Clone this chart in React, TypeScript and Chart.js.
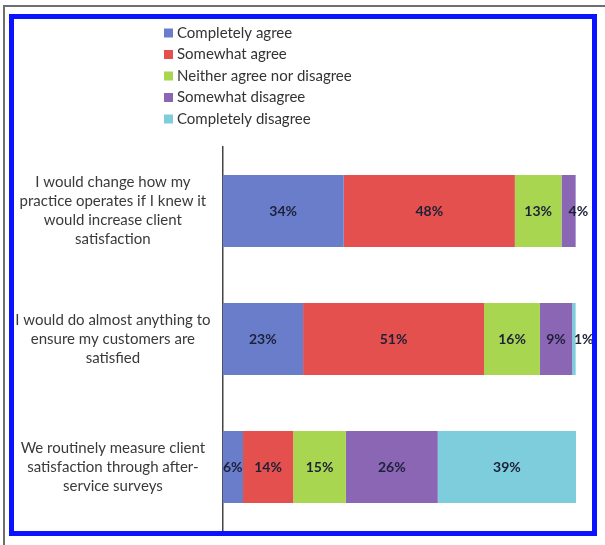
import React, { useEffect, useRef } from "react";
import { Chart, registerables } from "chart.js";

Chart.register(...registerables);

const categories: string[][] = [
  ["I would change how my", "practice operates if I knew it", "would increase client", "satisfaction"],
  ["I would do almost anything to", "ensure my customers are", "satisfied"],
  ["We routinely measure client", "satisfaction through after-", "service surveys"],
];

const seriesNames = [
  "Completely agree",
  "Somewhat agree",
  "Neither agree nor disagree",
  "Somewhat disagree",
  "Completely disagree",
];

const completelyAgree = [34.3, 22.8, 5.8];
const somewhatAgree = [48.4, 51.2, 14.2];
const neitherAgree = [13.2, 15.8, 14.9];
const somewhatDisagree = [4.0, 9.1, 26.0];
const completelyDisagree = [0, 1.0, 39.1];

const seriesColors = ["#6a7dcb", "#e3504d", "#a9d650", "#8b66b5", "#7dcddc"];

const FONT = "Lato, 'Open Sans', sans-serif";

const legendPlugin = {
  id: "verticalLegend",
  afterDraw(chart: any) {
    const ctx = chart.ctx;
    ctx.save();
    ctx.font = `15px ${FONT}`;
    ctx.textBaseline = "middle";
    ctx.textAlign = "left";
    chart.data.datasets.forEach((ds: any, i: number) => {
      const y = 33 + i * 21.5;
      ctx.fillStyle = ds.backgroundColor;
      ctx.fillRect(164, y - 4.5, 9, 9);
      ctx.fillStyle = "#333333";
      ctx.fillText(ds.label, 177, y);
    });
    ctx.restore();
  },
};

const valueLabelPlugin = {
  id: "valueLabels",
  afterDatasetsDraw(chart: any) {
    const ctx = chart.ctx;
    ctx.save();
    ctx.font = `bold 14px ${FONT}`;
    ctx.textBaseline = "middle";
    ctx.fillStyle = "#1c2038";
    chart.data.datasets.forEach((ds: any, di: number) => {
      const meta = chart.getDatasetMeta(di);
      meta.data.forEach((el: any, i: number) => {
        const v = ds.data[i];
        if (!v || v <= 0) return;
        const { x, base, y } = el.getProps(["x", "base", "y"], true);
        const text = `${Math.round(v)}%`;
        const w = ctx.measureText(text).width;
        const seg = Math.abs(x - base);
        const mid = (x + base) / 2;
        ctx.textAlign = w > seg + 2 ? "left" : "center";
        ctx.fillText(text, mid, y);
      });
    });
    ctx.restore();
  },
};

export default function App() {
  const canvasRef = useRef<HTMLCanvasElement | null>(null);

  useEffect(() => {
    const canvas = canvasRef.current;
    if (!canvas) return;
    const seriesValues = [completelyAgree, somewhatAgree, neitherAgree, somewhatDisagree, completelyDisagree];
    const chart = new Chart(canvas, {
      type: "bar",
      data: {
        labels: categories,
        datasets: seriesNames.map((name, i) => ({
          label: name,
          data: seriesValues[i],
          backgroundColor: seriesColors[i],
          borderWidth: 0,
          categoryPercentage: 1,
          barPercentage: 0.5625,
        })),
      },
      options: {
        indexAxis: "y",
        responsive: false,
        animation: false,
        layout: { padding: { left: 0, top: 147, right: 29, bottom: 14 } },
        plugins: {
          legend: { display: false },
          tooltip: { enabled: false },
        },
        scales: {
          x: { stacked: true, min: 0, max: 100, display: false },
          y: {
            stacked: true,
            grid: { display: false, drawTicks: false },
            border: { display: true, color: "#444444", width: 1.5 },
            afterFit: (scale: any) => {
              scale.width = 222.5;
              scale.paddingTop = 0;
              scale.paddingBottom = 0;
            },
            ticks: {
              crossAlign: "center",
              padding: 12,
              color: "#3a3a3a",
              font: { family: FONT, size: 15, lineHeight: 1.26 },
            },
          },
        },
      },
      plugins: [legendPlugin, valueLabelPlugin],
    });
    return () => chart.destroy();
  }, []);

  return (
    <div style={{ position: "fixed", left: 0, top: 0, width: 605, height: 545, background: "#ffffff", overflow: "hidden" }}>
      <canvas ref={canvasRef} width={605} height={545} style={{ position: "absolute", left: 0, top: 0 }} />
      <div
        style={{
          position: "absolute",
          left: 3,
          top: 5,
          width: 610,
          height: 550,
          boxSizing: "border-box",
          borderTop: "2px solid #6e6e6e",
          borderLeft: "2px solid #6e6e6e",
          pointerEvents: "none",
        }}
      />
      <div
        style={{
          position: "absolute",
          left: 9,
          top: 14,
          width: 588,
          height: 522,
          boxSizing: "border-box",
          border: "5px solid #0a12ff",
          pointerEvents: "none",
        }}
      />
    </div>
  );
}
